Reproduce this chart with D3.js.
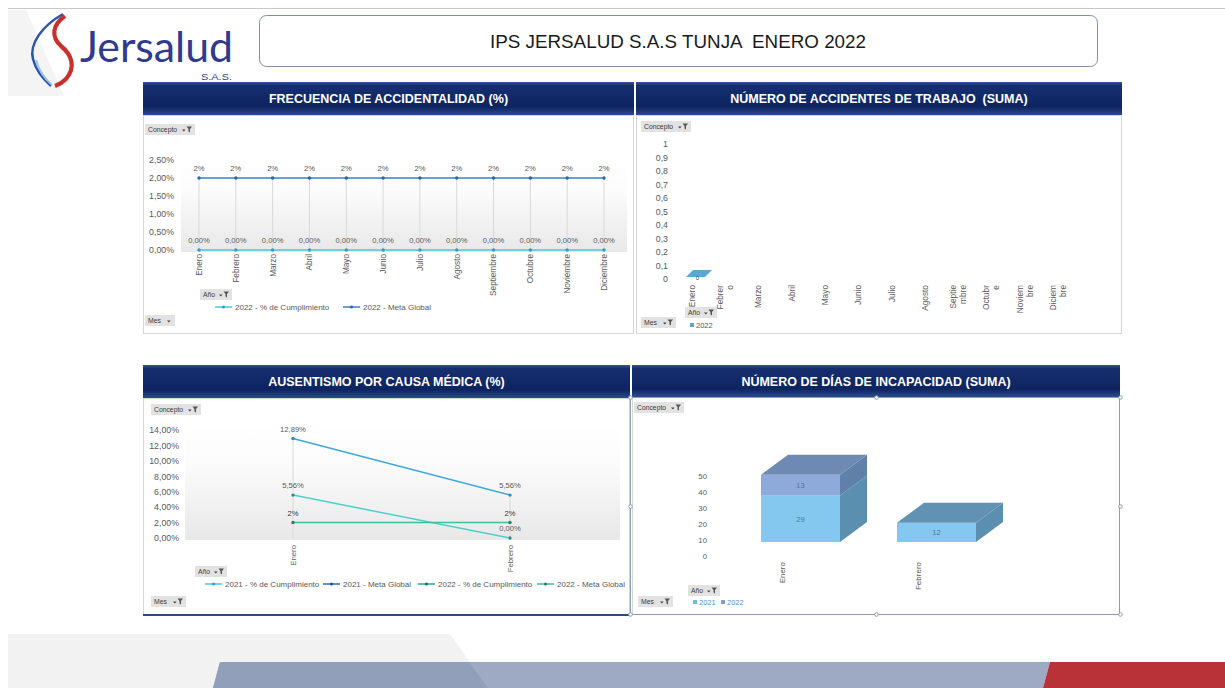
<!DOCTYPE html>
<html>
<head>
<meta charset="utf-8">
<script src="https://cdn.jsdelivr.net/npm/d3@7"></script>
<style>
  body { margin: 0; background: #fff; }
  svg { display: block; font-family: "Liberation Sans", Arial, sans-serif; }
</style>
</head>
<body>
<div id="tablero"></div>
<script>
var meses = ["Enero", "Febrero", "Marzo", "Abril", "Mayo", "Junio", "Julio", "Agosto", "Septiembre", "Octubre", "Noviembre", "Diciembre"];
var frecCumplimiento2022 = [0, 0, 0, 0, 0, 0, 0, 0, 0, 0, 0, 0];
var frecMeta2022 = [2, 2, 2, 2, 2, 2, 2, 2, 2, 2, 2, 2];
var frecTicks = [0, 0.5, 1, 1.5, 2, 2.5];

// etiquetas cortadas como salen en el grafico de accidentes
var accEtiquetas = [["Enero"], ["Febrer", "o"], ["Marzo"], ["Abril"], ["Mayo"], ["Junio"], ["Julio"], ["Agosto"], ["Septie", "mbre"], ["Octubr", "e"], ["Noviem", "bre"], ["Diciem", "bre"]];
var accMeses2022 = ["Enero"];
var accidentes2022 = [0];
var accTicks = [0, 0.1, 0.2, 0.3, 0.4, 0.5, 0.6, 0.7, 0.8, 0.9, 1];

var ausMeses = ["Enero", "Febrero"];
var ausCumplimiento2021 = [12.89, 5.56];
var ausMeta2021 = [null, null];
var ausCumplimiento2022 = [5.56, 0];
var ausMeta2022 = [2, 2];
var ausTicks = [0, 2, 4, 6, 8, 10, 12, 14];

var incMeses = ["Enero", "Febrero"];
var incDias2021 = [29, 12];
var incDias2022 = [13, 0];
var incTicks = [0, 10, 20, 30, 40, 50];

var gris = "#595959";

function pct2(v) { return v.toFixed(2).replace(".", ",") + "%"; }
function pct0(v) { return v + "%"; }
function dec(v) { return String(v).replace(".", ","); }

var svg = d3.select("#tablero").append("svg")
  .attr("width", 1225)
  .attr("height", 688);

var defs = svg.append("defs");
var cab = defs.append("linearGradient").attr("id", "cabecera")
  .attr("x1", 0).attr("y1", 0).attr("x2", 0).attr("y2", 1);
[[0, "#3a5594"], [0.1, "#172f6f"], [0.75, "#0d2461"], [1, "#2b4b8e"]].forEach(function (s) {
  cab.append("stop").attr("offset", s[0]).attr("stop-color", s[1]);
});
var fondo = defs.append("linearGradient").attr("id", "fondoPlot")
  .attr("x1", 0).attr("y1", 0).attr("x2", 0).attr("y2", 1);
[[0, "#ffffff"], [0.35, "#fbfbfb"], [1, "#e8e8e8"]].forEach(function (s) {
  fondo.append("stop").attr("offset", s[0]).attr("stop-color", s[1]);
});

// ---- fondo de la pagina ----
svg.append("polygon").attr("points", "8,10 26,10 64,96 8,96").attr("fill", "#f4f4f4");
svg.append("polygon").attr("points", "8,634 450,634 488,688 8,688").attr("fill", "#f2f2f2");
svg.append("line").attr("x1", 8).attr("x2", 1225).attr("y1", 8.5).attr("y2", 8.5)
  .attr("stroke", "#c8c8c8");

// banda inferior
svg.append("polygon").attr("points", "220,662 1050,662 1043,688 213,688").attr("fill", "#9eaac3");
svg.append("polygon").attr("points", "220,662 469,662 488,688 213,688").attr("fill", "#929fba");
svg.append("polygon").attr("points", "1050,662 1225,662 1225,688 1043,688").attr("fill", "#b93238");

// ---- logo ----
svg.append("path").attr("d", "M63,14 C42,26 29,44 33,59 C36,71 43,79 51,86")
  .attr("fill", "none").attr("stroke", "#2d55a8").attr("stroke-width", 2.5);
svg.append("path").attr("d", "M36,60 C39,71 45,79 52,85")
  .attr("fill", "none").attr("stroke", "#9cc4ea").attr("stroke-width", 2);
svg.append("path").attr("d", "M65,16 C52,25 51,37 61,46 C72,55 76,67 66,79 C62,83 58,85 55,86")
  .attr("fill", "none").attr("stroke", "#c8312b").attr("stroke-width", 4.2);
svg.append("text").attr("x", 80).attr("y", 62)
  .attr("font-family", "Lato, 'Open Sans', sans-serif").attr("font-size", 42)
  .attr("textLength", 153).attr("lengthAdjust", "spacingAndGlyphs")
  .attr("fill", "#2e3b8e").text("Jersalud");
svg.append("text").attr("x", 201).attr("y", 80)
  .attr("font-size", 9)
  .attr("textLength", 31).attr("lengthAdjust", "spacingAndGlyphs")
  .attr("fill", "#2e3b8e").text("S.A.S.");

// ---- titulo ----
svg.append("rect").attr("x", 259.5).attr("y", 15.5).attr("width", 838).attr("height", 51)
  .attr("rx", 7).attr("fill", "#fff").attr("stroke", "#7c90a8");
svg.append("text").attr("x", 678).attr("y", 48).attr("text-anchor", "middle")
  .attr("font-family", "'Liberation Sans Narrow', 'Arial Narrow', sans-serif")
  .attr("font-size", 18).attr("fill", "#1a1a1a").style("white-space", "pre")
  .attr("textLength", 376).attr("lengthAdjust", "spacingAndGlyphs")
  .text("IPS JERSALUD S.A.S TUNJA  ENERO 2022");

// ---- paneles ----
function panel(x, y, w, hCab, hCuerpo, titulo) {
  svg.append("rect").attr("x", x + 0.5).attr("y", y + hCab + 0.5)
    .attr("width", w - 1).attr("height", hCuerpo)
    .attr("fill", "#fff").attr("stroke", "#d6d6d6");
  svg.append("rect").attr("x", x).attr("y", y).attr("width", w).attr("height", hCab)
    .attr("fill", "url(#cabecera)");
  svg.append("text").attr("x", x + w / 2).attr("y", y + hCab / 2 + 4.5)
    .attr("text-anchor", "middle").attr("font-weight", "bold").attr("font-size", 12.5)
    .attr("fill", "#fff").style("white-space", "pre").text(titulo);
}
panel(143, 82, 491, 33, 218, "FRECUENCIA DE ACCIDENTALIDAD (%)");
panel(636, 82, 486, 33, 218, "NÚMERO DE ACCIDENTES DE TRABAJO  (SUMA)");
panel(143, 365, 487, 33, 217, "AUSENTISMO POR CAUSA MÉDICA (%)");
panel(632, 365, 488, 32, 217, "NÚMERO DE DÍAS DE INCAPACIDAD (SUMA)");

svg.append("line").attr("x1", 143).attr("x2", 630).attr("y1", 615).attr("y2", 615)
  .attr("stroke", "#2b4a86").attr("stroke-width", 2);

function boton(x, y, w, etiqueta, filtro) {
  var b = svg.append("g").attr("transform", "translate(" + x + "," + y + ")");
  b.append("rect").attr("width", w).attr("height", 11).attr("fill", "#e2e2e2");
  b.append("text").attr("x", 3).attr("y", 8).attr("font-size", 6.8).attr("fill", "#3a3a3a").text(etiqueta);
  var ax = w - (filtro ? 13 : 8);
  b.append("path").attr("d", "M" + ax + ",5.5 h3.6 l-1.8,2 z").attr("fill", "#444");
  if (filtro) {
    b.append("path").attr("d", "M" + (w - 8.5) + ",2.5 h5.5 l-2,2.5 v3.5 l-1.5,-1 v-2.5 z").attr("fill", "#555");
  }
}

function ejeY(x, escala, ticks, formato, tam) {
  var g = svg.append("g").attr("transform", "translate(" + x + ",0)")
    .call(d3.axisLeft(escala).tickValues(ticks).tickSize(0).tickPadding(0).tickFormat(formato));
  g.select(".domain").remove();
  g.attr("font-size", tam).attr("font-family", null);
  g.selectAll("text").attr("fill", gris);
  return g;
}

function etiquetasX(escala, cats, y, tam) {
  svg.append("g").selectAll("text").data(cats).enter().append("text")
    .attr("transform", function (d) { return "translate(" + escala(d) + "," + y + ") rotate(-90)"; })
    .attr("text-anchor", "end").attr("dy", "0.35em")
    .attr("font-size", tam).attr("fill", gris)
    .text(function (d) { return d; });
}

function serie(escX, escY, cats, vals, color, marca, formato, colorTexto) {
  var pts = cats.map(function (c, i) { return { c: c, v: vals[i] }; })
    .filter(function (p) { return p.v != null; });
  if (!pts.length) return;
  var g = svg.append("g");
  g.append("path").datum(pts)
    .attr("d", d3.line().x(function (p) { return escX(p.c); }).y(function (p) { return escY(p.v); }))
    .attr("fill", "none").attr("stroke", color).attr("stroke-width", 1.5);
  g.selectAll("circle").data(pts).enter().append("circle")
    .attr("cx", function (p) { return escX(p.c); })
    .attr("cy", function (p) { return escY(p.v); })
    .attr("r", 1.7).attr("fill", marca);
  g.selectAll("text").data(pts).enter().append("text")
    .attr("x", function (p) { return escX(p.c); })
    .attr("y", function (p) { return escY(p.v) - 7; })
    .attr("text-anchor", "middle").attr("font-size", 7.6).attr("fill", colorTexto || gris)
    .text(function (p) { return formato(p.v); });
}

function leyendaLinea(x, y, color, marca, texto) {
  svg.append("line").attr("x1", x).attr("x2", x + 17).attr("y1", y).attr("y2", y)
    .attr("stroke", color).attr("stroke-width", 1.5);
  svg.append("circle").attr("cx", x + 8.5).attr("cy", y).attr("r", 1.6).attr("fill", marca);
  svg.append("text").attr("x", x + 20).attr("y", y + 3).attr("font-size", 8).attr("fill", gris).text(texto);
}

// ---- 1. Frecuencia de accidentalidad ----
var x1 = d3.scalePoint().domain(meses).range([199, 604]);
var y1 = d3.scaleLinear().domain([0, 2.5]).range([250, 160]);
svg.append("rect").attr("x", 181).attr("y", y1(2.5)).attr("width", 446)
  .attr("height", y1(0) - y1(2.5) + 2).attr("fill", "url(#fondoPlot)");
svg.append("g").selectAll("line").data(meses).enter().append("line")
  .attr("x1", function (d) { return x1(d); }).attr("x2", function (d) { return x1(d); })
  .attr("y1", function (d, i) { return y1(Math.max(frecMeta2022[i], frecCumplimiento2022[i])); })
  .attr("y2", y1(0)).attr("stroke", "#d9d9d9");
ejeY(174, y1, frecTicks, pct2, 8.8);
serie(x1, y1, meses, frecCumplimiento2022, "#4cc2ea", "#2a9fd0", pct2);
serie(x1, y1, meses, frecMeta2022, "#3185cc", "#2468aa", pct0);
etiquetasX(x1, meses, 254, 8.2);
boton(145, 124, 50, "Concepto", true);
boton(200, 289, 32, "Año", true);
boton(145, 315, 30, "Mes", false);
leyendaLinea(215, 307, "#4cc2ea", "#2a9fd0", "2022 - % de Cumplimiento");
leyendaLinea(343, 307, "#3185cc", "#2468aa", "2022 - Meta Global");

// ---- 2. Numero de accidentes de trabajo ----
var x2 = d3.scalePoint().domain(meses).range([692, 1058]);
var y2 = d3.scaleLinear().domain([0, 1]).range([279, 144]);
ejeY(668, y2, accTicks, dec, 8.8);
svg.append("g").selectAll("text").data(accEtiquetas).enter().append("g")
  .each(function (lineas, i) {
    var cx = x2(meses[i]);
    d3.select(this).selectAll("text").data(lineas).enter().append("text")
      .attr("transform", function (t, j) {
        return "translate(" + (cx + (j - (lineas.length - 1) / 2) * 10) + ",285) rotate(-90)";
      })
      .attr("text-anchor", "end").attr("dy", "0.35em")
      .attr("font-size", 8.3).attr("fill", gris)
      .text(function (t) { return t; });
  });
// barra 3D aplanada (valor 0)
var prof2 = 7, ancho2 = 19;
var barras2 = svg.append("g").selectAll("g").data(accMeses2022).enter().append("g");
barras2.append("polygon").attr("points", function (m, i) {
  var fx = x2(m) - 6, ty = y2(accidentes2022[i]) - 2;
  return [[fx, ty], [fx + prof2, ty - prof2], [fx + ancho2 + prof2, ty - prof2], [fx + ancho2, ty]].join(" ");
}).attr("fill", "#5ba6d2");
barras2.append("text")
  .attr("x", function (m) { return x2(m) - 6 + ancho2 / 2 + 2; })
  .attr("y", function (m, i) { return y2(accidentes2022[i]) + 1; })
  .attr("text-anchor", "middle").attr("font-size", 6).attr("fill", "#3d4f60")
  .text(function (m, i) { return accidentes2022[i]; });
boton(641, 121, 50, "Concepto", true);
boton(685, 307, 32, "Año", true);
boton(641, 317, 35, "Mes", true);
svg.append("rect").attr("x", 690).attr("y", 323).attr("width", 4).attr("height", 4).attr("fill", "#5ba6d2");
svg.append("text").attr("x", 696).attr("y", 328).attr("font-size", 7.5).attr("fill", gris).text("2022");

// ---- 3. Ausentismo por causa medica ----
var x3 = d3.scalePoint().domain(ausMeses).range([293, 510]);
var y3 = d3.scaleLinear().domain([0, 14]).range([538, 430]);
svg.append("rect").attr("x", 185).attr("y", y3(14) - 5).attr("width", 435)
  .attr("height", y3(0) - y3(14) + 7).attr("fill", "url(#fondoPlot)");
svg.append("g").selectAll("line").data(ausMeses).enter().append("line")
  .attr("x1", function (d) { return x3(d); }).attr("x2", function (d) { return x3(d); })
  .attr("y1", function (d, i) {
    return y3(d3.max([ausCumplimiento2021[i], ausMeta2021[i], ausCumplimiento2022[i], ausMeta2022[i]]));
  })
  .attr("y2", y3(0)).attr("stroke", "#d9d9d9");
ejeY(179, y3, ausTicks, pct2, 8.8);
serie(x3, y3, ausMeses, ausCumplimiento2021, "#3ea8dc", "#2a8cc0", pct2);
serie(x3, y3, ausMeses, ausMeta2021, "#2d6fb6", "#1f5696", pct0);
serie(x3, y3, ausMeses, ausCumplimiento2022, "#4fcfcb", "#2c8f86", pct2);
serie(x3, y3, ausMeses, ausMeta2022, "#3dbf98", "#268068", pct0, "#333");
etiquetasX(x3, ausMeses, 545, 7.8);
boton(151, 404, 50, "Concepto", true);
boton(195, 566, 32, "Año", true);
boton(151, 596, 35, "Mes", true);
leyendaLinea(205, 584, "#4cc2ea", "#2a9fd0", "2021 - % de Cumplimiento");
leyendaLinea(323, 584, "#2d6fb6", "#1f5696", "2021 - Meta Global");
leyendaLinea(418, 584, "#2aa79a", "#1e6f64", "2022 - % de Cumplimiento");
leyendaLinea(537, 584, "#3dbf98", "#268068", "2022 - Meta Global");

// ---- 4. Numero de dias de incapacidad ----
var x4 = d3.scalePoint().domain(incMeses).range([782, 918]);
var y4 = d3.scaleLinear().domain([0, 50]).range([556, 476]);
ejeY(707, y4, incTicks, function (d) { return d; }, 7.8);
etiquetasX(x4, incMeses, 562, 8);

var tablaInc = incMeses.map(function (m, i) { return { mes: m, d2021: incDias2021[i], d2022: incDias2022[i] }; });
var capas = d3.stack().keys(["d2021", "d2022"])(tablaInc);
var colores4 = {
  d2021: { frente: "#84c8ef", lado: "#5b8fb0", techo: "#6192b4" },
  d2022: { frente: "#8eaadb", lado: "#5f80a9", techo: "#6f8ab2" }
};
var piso = 14, dx4 = 27, dy4 = 20, ancho4 = 79;
var g4 = svg.append("g");
capas.forEach(function (capa, k) {
  var c = colores4[capa.key];
  capa.forEach(function (seg, i) {
    if (seg[1] - seg[0] <= 0) return;
    var fx = x4(seg.data.mes) - 21;
    var yb = y4(seg[0]) - piso, yt = y4(seg[1]) - piso;
    g4.append("rect").attr("x", fx).attr("y", yt).attr("width", ancho4).attr("height", yb - yt).attr("fill", c.frente);
    g4.append("polygon").attr("points", [[fx + ancho4, yt], [fx + ancho4 + dx4, yt - dy4], [fx + ancho4 + dx4, yb - dy4], [fx + ancho4, yb]].join(" "))
      .attr("fill", c.lado);
    var arriba = capas.slice(k + 1).every(function (o) { return o[i][1] - o[i][0] <= 0; });
    if (arriba) {
      g4.append("polygon").attr("points", [[fx, yt], [fx + dx4, yt - dy4], [fx + ancho4 + dx4, yt - dy4], [fx + ancho4, yt]].join(" "))
        .attr("fill", c.techo);
    }
    g4.append("text").attr("x", fx + ancho4 / 2).attr("y", (yb + yt) / 2 + 3)
      .attr("text-anchor", "middle").attr("font-size", 7.5).attr("fill", "#60708a")
      .text(seg[1] - seg[0]);
  });
});
boton(634, 402, 50, "Concepto", true);
boton(688, 585, 32, "Año", true);
boton(638, 596, 35, "Mes", true);
svg.append("rect").attr("x", 693).attr("y", 600).attr("width", 4).attr("height", 4).attr("fill", "#5ec0ea");
svg.append("text").attr("x", 699).attr("y", 605).attr("font-size", 7.5).attr("fill", "#5a8fc0").text("2021");
svg.append("rect").attr("x", 721).attr("y", 600).attr("width", 4).attr("height", 4).attr("fill", "#7f9fd6");
svg.append("text").attr("x", 727).attr("y", 605).attr("font-size", 7.5).attr("fill", "#5a8fc0").text("2022");

// marco de seleccion del grafico de incapacidad
svg.append("rect").attr("x", 630.5).attr("y", 397.5).attr("width", 489).attr("height", 217)
  .attr("fill", "none").attr("stroke", "#8a9db0");
[[630, 397], [876, 397], [1120, 397], [630, 506], [1120, 506], [630, 614], [876, 614], [1120, 614]].forEach(function (p) {
  svg.append("circle").attr("cx", p[0] + 0.5).attr("cy", p[1] + 0.5).attr("r", 1.8)
    .attr("fill", "#fff").attr("stroke", "#8a9db0");
});
</script>
</body>
</html>
